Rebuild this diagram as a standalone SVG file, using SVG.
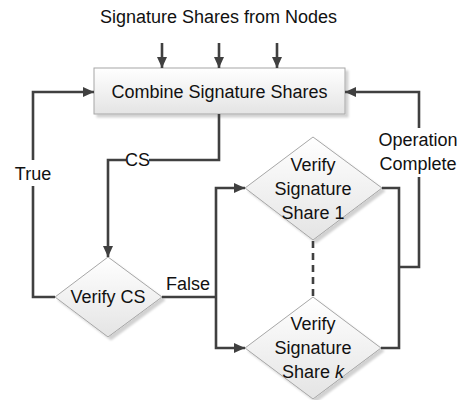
<svg xmlns="http://www.w3.org/2000/svg" width="464" height="400" viewBox="0 0 464 400">
  <style>
    text { font-family: "Liberation Sans", Arial, sans-serif; font-size: 18px; fill: #111; text-anchor: middle; }
    .shape { fill: url(#fillGrad); stroke: #a6a6a6; stroke-width: 1; filter: url(#shadow); }
    .wire { fill: none; stroke: #404040; stroke-width: 2.6; }
    .arrow { marker-end: url(#head); }
    .dash { stroke-dasharray: 7 5; }
  </style>
  <defs>
    <linearGradient id="fillGrad" x1="0" y1="0" x2="0" y2="1">
      <stop offset="0" stop-color="#ffffff"/>
      <stop offset="1" stop-color="#e4e4e4"/>
    </linearGradient>
    <filter id="shadow" x="-10%" y="-10%" width="130%" height="130%">
      <feDropShadow dx="3" dy="3" stdDeviation="1.2" flood-color="#000" flood-opacity="0.18"/>
    </filter>
    <marker id="head" markerUnits="userSpaceOnUse" markerWidth="12" markerHeight="12" viewBox="0 0 12 12" refX="11" refY="6" orient="auto">
      <path d="M0,1 L11,6 L0,11 Z" fill="#404040"/>
    </marker>
  </defs>

  <text x="218.5" y="23">Signature Shares from Nodes</text>

  <g id="combine">
    <rect class="shape" x="94" y="68" width="251" height="46"/>
    <text x="219.5" y="98">Combine Signature Shares</text>
  </g>

  <g id="verify-cs">
    <polygon class="shape" points="108,257 162,297 108,337 55,297"/>
    <text x="108" y="303">Verify CS</text>
  </g>

  <g id="verify-share-1">
    <polygon class="shape" points="313,137 382,188 313,240 245,188"/>
    <text x="313" y="171">Verify</text>
    <text x="313" y="195">Signature</text>
    <text x="313" y="219">Share 1</text>
  </g>

  <g id="verify-share-k">
    <polygon class="shape" points="313,297 381,348 313,399 245,348"/>
    <text x="313" y="330">Verify</text>
    <text x="313" y="354">Signature</text>
    <text x="313" y="378">Share <tspan font-style="italic">k</tspan></text>
  </g>

  <g id="connectors">
    <!-- incoming shares -->
    <path class="wire arrow" d="M162,43 V68"/>
    <path class="wire arrow" d="M219,43 V68"/>
    <path class="wire arrow" d="M277,43 V68"/>
    <!-- True loop back to combine -->
    <path class="wire" d="M55,297 H33 V186"/>
    <path class="wire arrow" d="M33,160 V92 H94"/>
    <text x="33" y="180">True</text>
    <!-- CS to verify -->
    <path class="wire" d="M219,114 V160 H149"/>
    <path class="wire arrow" d="M126,160 H108 V257"/>
    <text x="137.5" y="166">CS</text>
    <!-- False branch to share checks -->
    <path class="wire" d="M162,297 H216"/>
    <path class="wire arrow" d="M216,297 V188 H245"/>
    <path class="wire arrow" d="M216,297 V348 H245"/>
    <text x="188" y="290">False</text>
    <!-- ellipsis between share checks -->
    <path class="wire dash" d="M313,241 V297"/>
    <!-- operation complete back to combine -->
    <path class="wire" d="M382,188 H399 V348 H381"/>
    <path class="wire" d="M399,267 H419 V177"/>
    <path class="wire arrow" d="M419,128 V92 H345"/>
    <text x="418" y="146">Operation</text>
    <text x="418" y="170">Complete</text>
  </g>
</svg>
